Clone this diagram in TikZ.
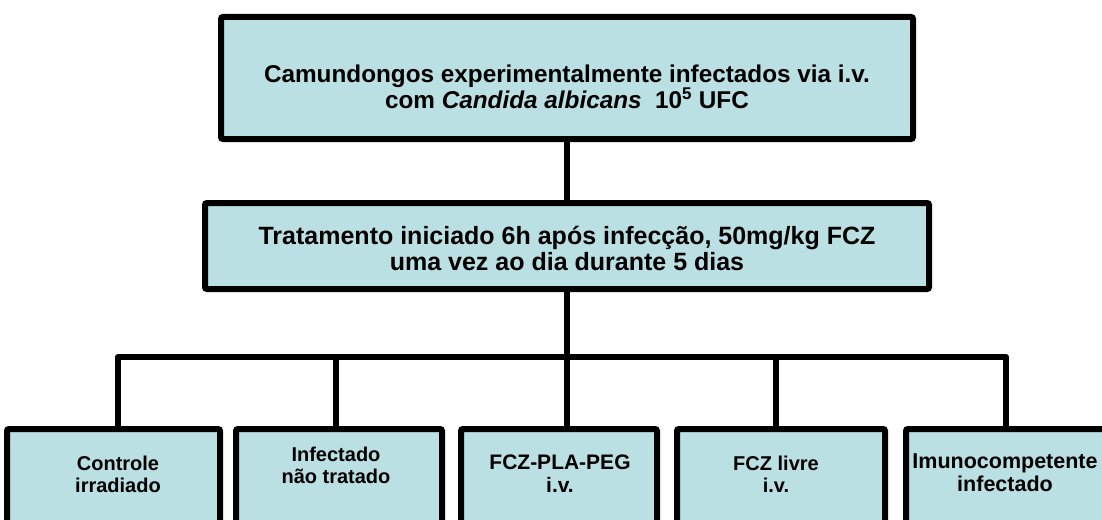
\documentclass[tikz,border=0pt]{standalone}
\usepackage{fontspec}
\setmainfont{Liberation Sans}
\definecolor{boxfill}{HTML}{BAE0E3}
\tikzset{
	box/.style={draw=black, fill=boxfill, line width=6pt, rounded corners=2pt, inner sep=0pt},
	maintext/.style={align=center, font=\bfseries\fontsize{24.3}{26}\selectfont},
	leaftext/.style={align=center, font=\bfseries\fontsize{20}{22}\selectfont},
	wire/.style={line width=6pt},
}

\begin{document}
\begin{tikzpicture}[x=1pt,y=-1pt]
			%%%%% START %%%%%
			
			\clip (0,0) rectangle (1102,519);
			
			\node[box, minimum width=692pt, minimum height=122pt] (infec) at (567,78) {};
			\node[maintext] (infectxt) at (567,87) {Camundongos experimentalmente infectados via i.v.\\com \textit{Candida albicans}\ \ 10\textsuperscript{5} UFC};
			
			\node[box, minimum width=724pt, minimum height=86pt] (trat) at (567,246) {};
			\node[maintext, font=\bfseries\fontsize{25}{26}\selectfont] (trattxt) at (567,248) {Tratamento iniciado 6h após infecção, 50mg/kg FCZ\\uma vez ao dia durante 5 dias};
			
			\draw[wire] (infec.south) -- (trat.north);
			
			% the five groups
			\node[box, minimum width=213pt, minimum height=120pt] (ctrl) at (113.5,489) {};
			\node[box, minimum width=206pt, minimum height=120pt] (naotrat) at (339,489) {};
			\node[box, minimum width=196pt, minimum height=120pt] (plapeg) at (559,489) {};
			\node[box, minimum width=208pt, minimum height=120pt] (livre) at (781,489) {};
			\node[box, minimum width=211pt, minimum height=120pt] (imuno) at (1011.5,489) {};
			
			\node[leaftext] (ctrltxt) at (118,474) {Controle\\irradiado};
			\node[leaftext] (naotrattxt) at (336,465) {Infectado\\não tratado};
			\node[leaftext, font=\bfseries\fontsize{21}{23}\selectfont] (plapegtxt) at (560,474) {FCZ-PLA-PEG\\i.v.};
			\node[leaftext] (livretxt) at (776,474) {FCZ livre\\i.v.};
			\node[leaftext, font=\bfseries\fontsize{21.5}{23}\selectfont] (imunotxt) at (1005,473) {Imunocompetente\\infectado};
			
			\coordinate (busL) at (118,357);
			\coordinate (busR) at (1006,357);
			\draw[wire, line cap=round] (busL) -- (busR);
			\draw[wire] (trat.south) -- (trat.south |- busL);
			
			\draw[wire] (busL) -- (busL |- ctrl.north);
			\draw[wire] (336,357) -- (336,426);
			\draw[wire] (trat.south |- busL) -- (trat.south |- plapeg.north);
			\draw[wire] (776,357) -- (776,426);
			\draw[wire] (busR) -- (busR |- imuno.north);
			
			%%%%% END %%%%%
\end{tikzpicture}
\end{document}
